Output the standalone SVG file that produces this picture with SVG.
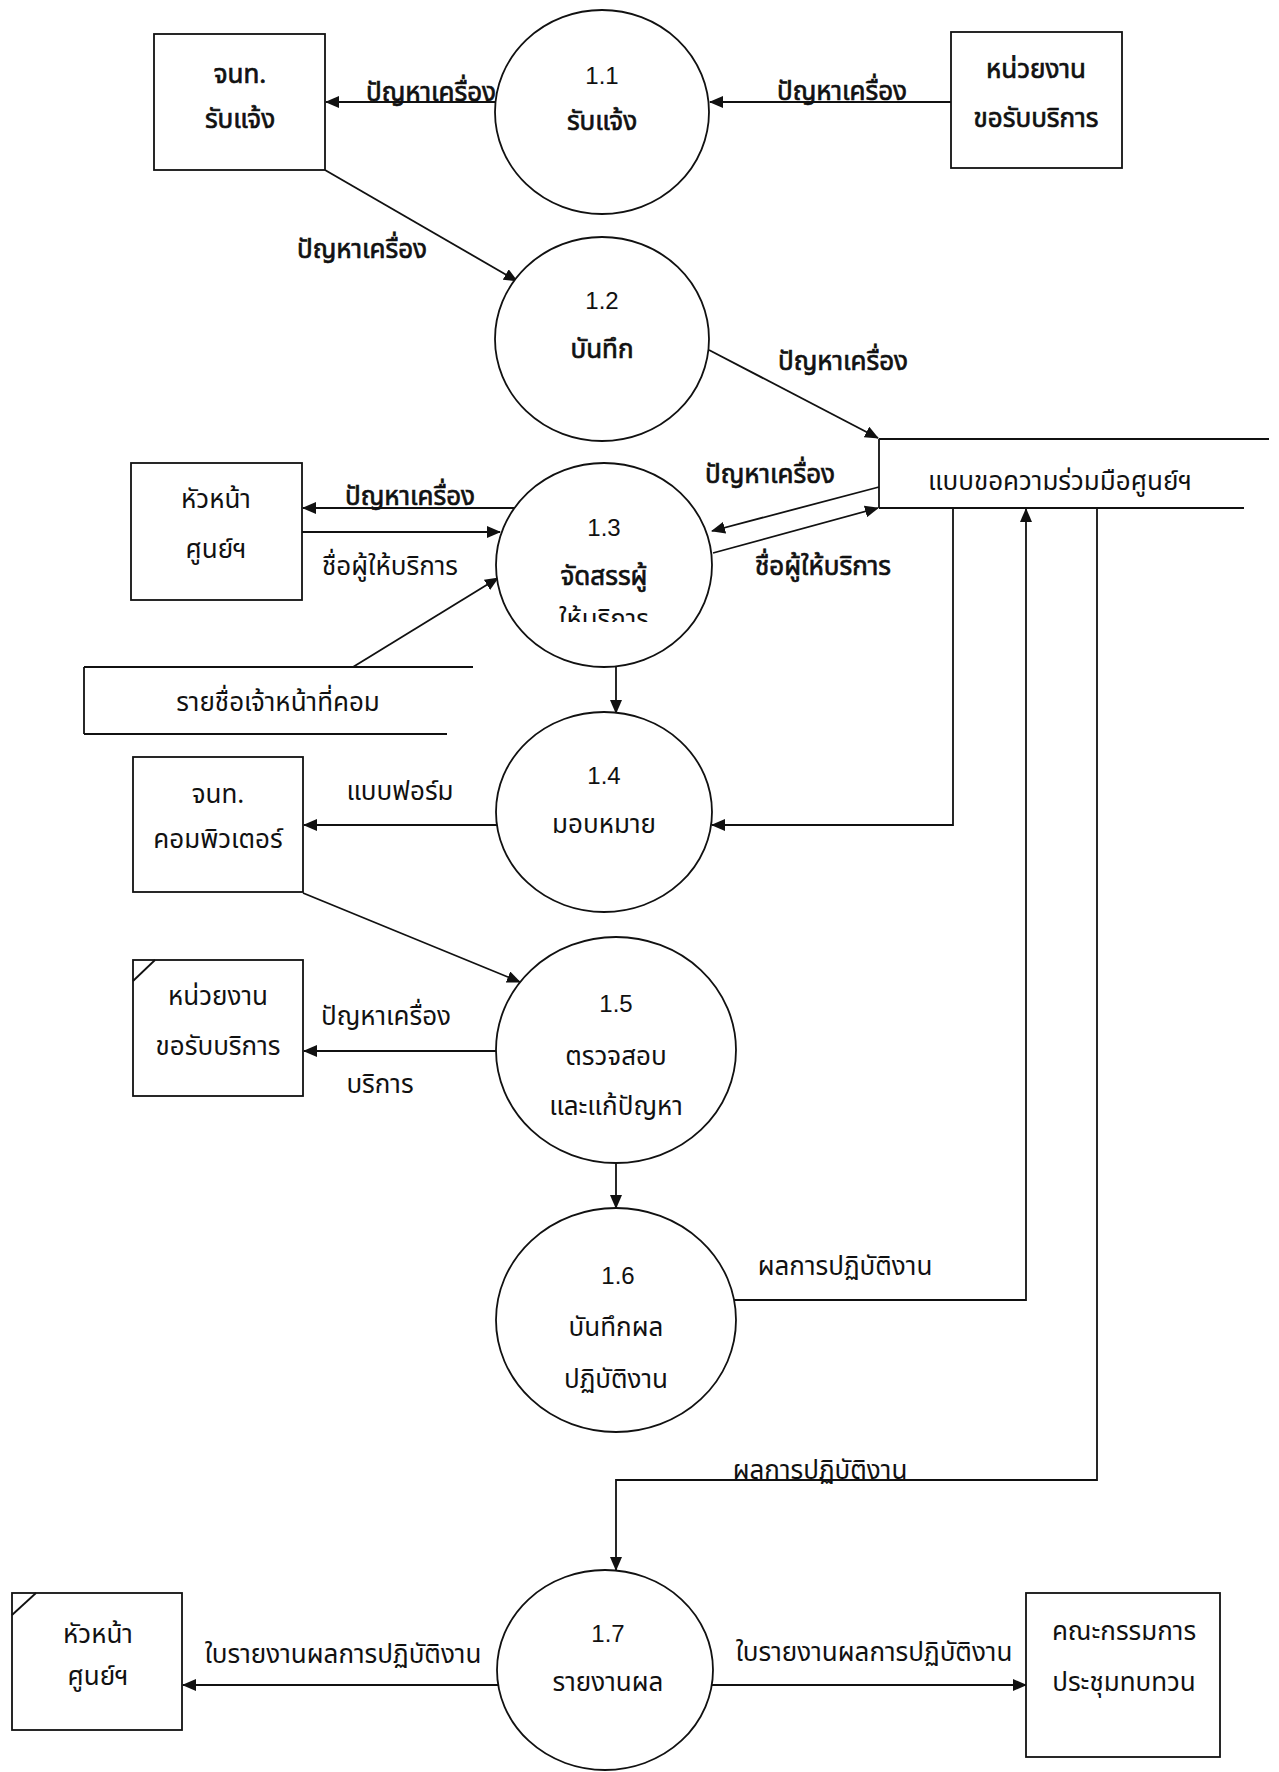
<svg xmlns="http://www.w3.org/2000/svg" width="1279" height="1772" viewBox="0 0 1279 1772">
<style>
text{font-family:"Noto Sans Thai","Noto Sans","DejaVu Sans",sans-serif;font-size:26px;fill:#111;text-anchor:middle}
.b{stroke:#111;stroke-width:0.7}
.n{font-family:"Liberation Sans",Arial,sans-serif;font-size:24px}
.shape{fill:#fff;stroke:#111;stroke-width:1.8}
.ln{fill:none;stroke:#111;stroke-width:1.8}
.fl{fill:none;stroke:#111;stroke-width:1.8;marker-end:url(#ah)}
</style>
<defs>
<marker id="ah" markerUnits="userSpaceOnUse" markerWidth="14" markerHeight="12" refX="13" refY="6" orient="auto">
<path d="M0,0 L14,6 L0,12 Z" fill="#111"/>
</marker>
<clipPath id="clip13"><rect x="480" y="560" width="250" height="62"/></clipPath>
</defs>
<rect width="1279" height="1772" fill="#fff"/>

<g id="connectors">
<line class="fl" x1="495" y1="102" x2="326" y2="102"/>
<line class="fl" x1="951" y1="102" x2="710" y2="102"/>
<line class="fl" x1="325" y1="170" x2="517" y2="281"/>
<line class="fl" x1="709" y1="350" x2="878" y2="438"/>
<line class="fl" x1="879" y1="487" x2="712" y2="531"/>
<line class="fl" x1="713" y1="553" x2="878" y2="508"/>
<line class="fl" x1="516" y1="508" x2="303" y2="508"/>
<line class="fl" x1="302" y1="532" x2="500" y2="532"/>
<line class="fl" x1="353" y1="667" x2="498" y2="578"/>
<line class="fl" x1="616" y1="667" x2="616" y2="713"/>
<polyline class="fl" points="953,508 953,825 712,825"/>
<line class="fl" x1="497" y1="825" x2="304" y2="825"/>
<line class="fl" x1="303" y1="893" x2="520" y2="982"/>
<line class="fl" x1="497" y1="1051" x2="304" y2="1051"/>
<line class="fl" x1="616" y1="1163" x2="616" y2="1208"/>
<polyline class="fl" points="734,1300 1026,1300 1026,509"/>
<polyline class="fl" points="1097,508 1097,1480 616,1480 616,1570"/>
<line class="fl" x1="498" y1="1685" x2="183" y2="1685"/>
<line class="fl" x1="712" y1="1685" x2="1026" y2="1685"/>
<text class="b" x="431" y="101">ปัญหาเครื่อง</text>
<text class="b" x="842" y="100">ปัญหาเครื่อง</text>
<text class="b" x="362" y="258">ปัญหาเครื่อง</text>
<text class="b" x="843" y="370">ปัญหาเครื่อง</text>
<text class="b" x="770" y="483">ปัญหาเครื่อง</text>
<text class="b" x="823" y="575">ชื่อผู้ให้บริการ</text>
<text class="b" x="410" y="505">ปัญหาเครื่อง</text>
<text x="390" y="575">ชื่อผู้ให้บริการ</text>
<text x="400" y="800">แบบฟอร์ม</text>
<text x="386" y="1025">ปัญหาเครื่อง</text>
<text x="380" y="1093">บริการ</text>
<text x="845" y="1275">ผลการปฏิบัติงาน</text>
<text x="820" y="1479">ผลการปฏิบัติงาน</text>
<text x="343" y="1663">ใบรายงานผลการปฏิบัติงาน</text>
<text x="874" y="1661">ใบรายงานผลการปฏิบัติงาน</text>
</g>

<g id="box-a">
<rect class="shape" x="154" y="34" width="171" height="136"/>
<text class="b" x="240" y="83">จนท.</text>
<text class="b" x="240" y="128">รับแจ้ง</text>
</g>
<g id="box-b">
<rect class="shape" x="951" y="32" width="171" height="136"/>
<text class="b" x="1036" y="78">หน่วยงาน</text>
<text class="b" x="1036" y="127">ขอรับบริการ</text>
</g>
<g id="p1-1">
<ellipse class="shape" cx="602" cy="112" rx="107" ry="102"/>
<text class="n" x="602" y="84">1.1</text>
<text class="b" x="602" y="130">รับแจ้ง</text>
</g>
<g id="p1-2">
<ellipse class="shape" cx="602" cy="339" rx="107" ry="102"/>
<text class="n" x="602" y="309">1.2</text>
<text class="b" x="602" y="358">บันทึก</text>
</g>
<g id="store-1">
<line class="ln" x1="879" y1="439" x2="1269" y2="439"/>
<line class="ln" x1="879" y1="508" x2="1244" y2="508"/>
<line class="ln" x1="879" y1="439" x2="879" y2="508"/>
<text x="1060" y="490">แบบขอความร่วมมือศูนย์ฯ</text>
</g>
<g id="box-c">
<rect class="shape" x="131" y="463" width="171" height="137"/>
<text x="216" y="508">หัวหน้า</text>
<text x="216" y="558">ศูนย์ฯ</text>
</g>
<g id="p1-3">
<ellipse class="shape" cx="604" cy="565" rx="108" ry="102"/>
<text class="n" x="604" y="536">1.3</text>
<text class="b" x="604" y="585">จัดสรรผู้</text>
<text x="604" y="628" clip-path="url(#clip13)">ให้บริการ</text>
</g>
<g id="store-2">
<line class="ln" x1="84" y1="667" x2="473" y2="667"/>
<line class="ln" x1="84" y1="734" x2="447" y2="734"/>
<line class="ln" x1="84" y1="667" x2="84" y2="734"/>
<text x="278" y="711">รายชื่อเจ้าหน้าที่คอม</text>
</g>
<g id="box-d">
<rect class="shape" x="133" y="757" width="170" height="135"/>
<text x="218" y="803">จนท.</text>
<text x="218" y="848">คอมพิวเตอร์</text>
</g>
<g id="p1-4">
<ellipse class="shape" cx="604" cy="812" rx="108" ry="100"/>
<text class="n" x="604" y="784">1.4</text>
<text x="604" y="833">มอบหมาย</text>
</g>
<g id="box-e">
<rect class="shape" x="133" y="960" width="170" height="136"/>
<line class="ln" x1="133" y1="981" x2="155" y2="960"/>
<text x="218" y="1005">หน่วยงาน</text>
<text x="218" y="1055">ขอรับบริการ</text>
</g>
<g id="p1-5">
<ellipse class="shape" cx="616" cy="1050" rx="120" ry="113"/>
<text class="n" x="616" y="1012">1.5</text>
<text x="616" y="1065">ตรวจสอบ</text>
<text x="616" y="1115">และแก้ปัญหา</text>
</g>
<g id="p1-6">
<ellipse class="shape" cx="616" cy="1320" rx="120" ry="112"/>
<text class="n" x="618" y="1284">1.6</text>
<text x="616" y="1336">บันทึกผล</text>
<text x="616" y="1388">ปฏิบัติงาน</text>
</g>
<g id="p1-7">
<ellipse class="shape" cx="605" cy="1670" rx="108" ry="100"/>
<text class="n" x="608" y="1642">1.7</text>
<text x="608" y="1691">รายงานผล</text>
</g>
<g id="box-f">
<rect class="shape" x="12" y="1593" width="170" height="137"/>
<line class="ln" x1="12" y1="1615" x2="36" y2="1593"/>
<text x="98" y="1643">หัวหน้า</text>
<text x="98" y="1685">ศูนย์ฯ</text>
</g>
<g id="box-g">
<rect class="shape" x="1026" y="1593" width="194" height="164"/>
<text x="1124" y="1640">คณะกรรมการ</text>
<text x="1124" y="1691">ประชุมทบทวน</text>
</g>
</svg>
